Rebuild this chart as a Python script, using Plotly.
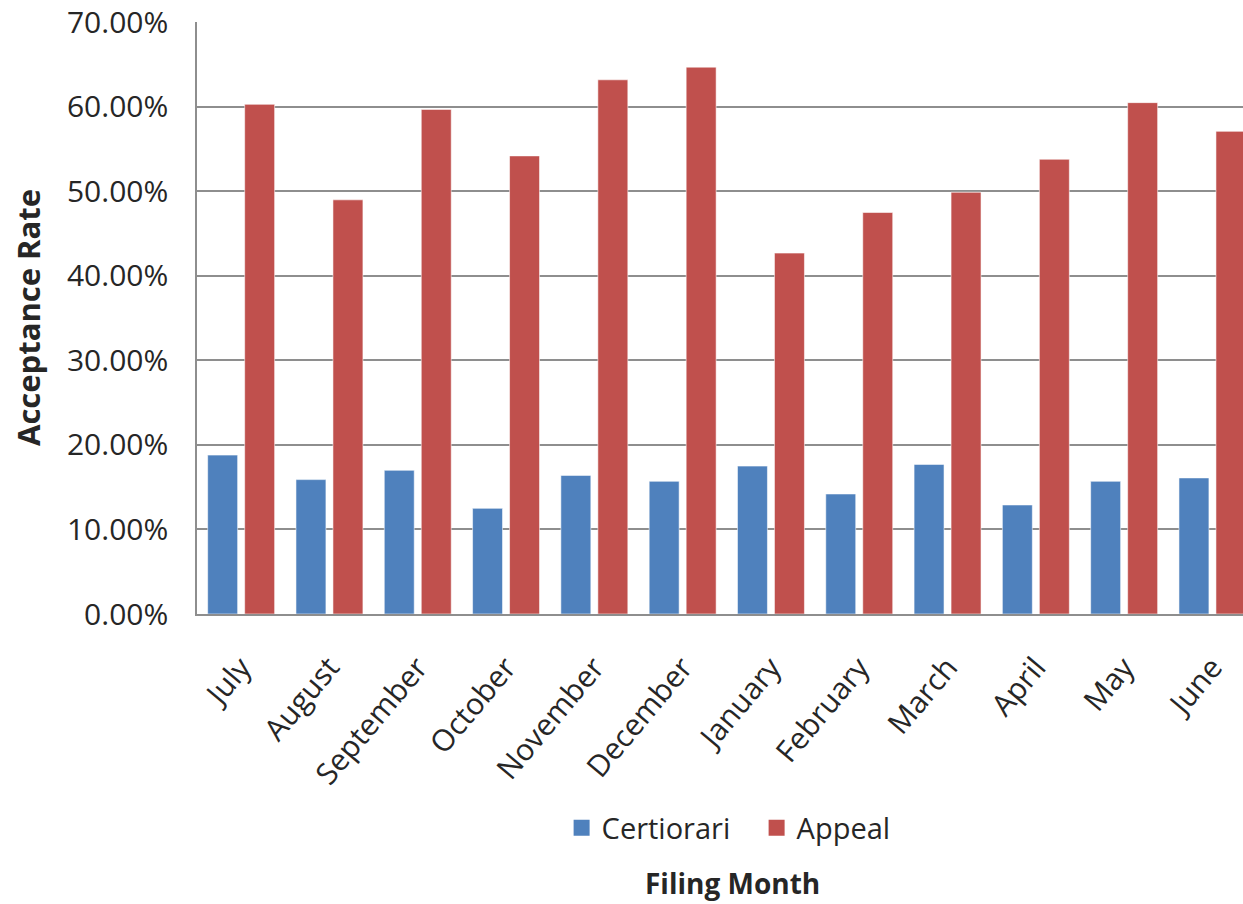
import plotly.graph_objects as go

# Monthly acceptance rates by filing type
months = ["July", "August", "September", "October", "November", "December",
          "January", "February", "March", "April", "May", "June"]
certiorari = [0.188, 0.159, 0.170, 0.125, 0.164, 0.157,
              0.175, 0.142, 0.177, 0.129, 0.157, 0.161]
appeal = [0.603, 0.490, 0.597, 0.542, 0.632, 0.647,
          0.427, 0.475, 0.499, 0.538, 0.605, 0.571]
y_ticks = [0, 0.1, 0.2, 0.3, 0.4, 0.5, 0.6, 0.7]

series = [("Certiorari", certiorari, "#4F81BD"), ("Appeal", appeal, "#C0504D")]

FONT = "Open Sans, sans-serif"
TEXT = "#262626"
GRID = "#8e8e8e"

fig = go.Figure()
for name, values, color in series:
    fig.add_trace(go.Bar(
        name=name, x=months, y=values, showlegend=False,
        marker=dict(color=color, line=dict(color="rgba(255,255,255,0.55)", width=1)),
    ))
# legend entries with larger square keys
for name, values, color in series:
    fig.add_trace(go.Scatter(
        name=name, x=[None], y=[None], mode="markers",
        marker=dict(symbol="square", size=20, color=color),
    ))

fig.update_layout(
    width=1243, height=904,
    margin=dict(l=197, r=0, t=22, b=290),
    paper_bgcolor="white", plot_bgcolor="white",
    barmode="group", bargap=0.162, bargroupgap=0.19,
    font=dict(family=FONT, size=30, color=TEXT),
    showlegend=True,
    legend=dict(
        orientation="h", x=0.535, xanchor="center", y=-0.3615, yanchor="middle",
        font=dict(family=FONT, size=29, color=TEXT),
        bgcolor="rgba(0,0,0,0)", itemwidth=30,
        entrywidth=150, entrywidthmode="pixels",
    ),
    xaxis=dict(
        type="category", range=[-0.5, 11.346],
        tickangle=-50, showgrid=False,
        showline=True, linecolor=GRID, linewidth=1.5,
        ticks="", ticklabelstandoff=22,
        tickfont=dict(family=FONT, size=30, color=TEXT),
    ),
    yaxis=dict(
        range=[0, 0.7004], tickvals=y_ticks, tickformat=".2%",
        showgrid=True, gridcolor=GRID, gridwidth=1.5,
        showline=True, linecolor=GRID, linewidth=1.5,
        zeroline=False, ticks="", ticklabelstandoff=21,
        tickfont=dict(family=FONT, size=30, color=TEXT),
    ),
    annotations=[
        dict(text="<b>Acceptance Rate</b>", textangle=-90,
             x=0, y=0.5, xref="paper", yref="paper",
             xanchor="center", yanchor="middle", xshift=-169, showarrow=False,
             font=dict(family=FONT, size=31, color=TEXT)),
        dict(text="<b>Filing Month</b>",
             x=0.5124, y=-0.4545, xref="paper", yref="paper",
             xanchor="center", yanchor="middle", showarrow=False,
             font=dict(family=FONT, size=28, color=TEXT)),
    ],
)

fig.write_html("out.html")
